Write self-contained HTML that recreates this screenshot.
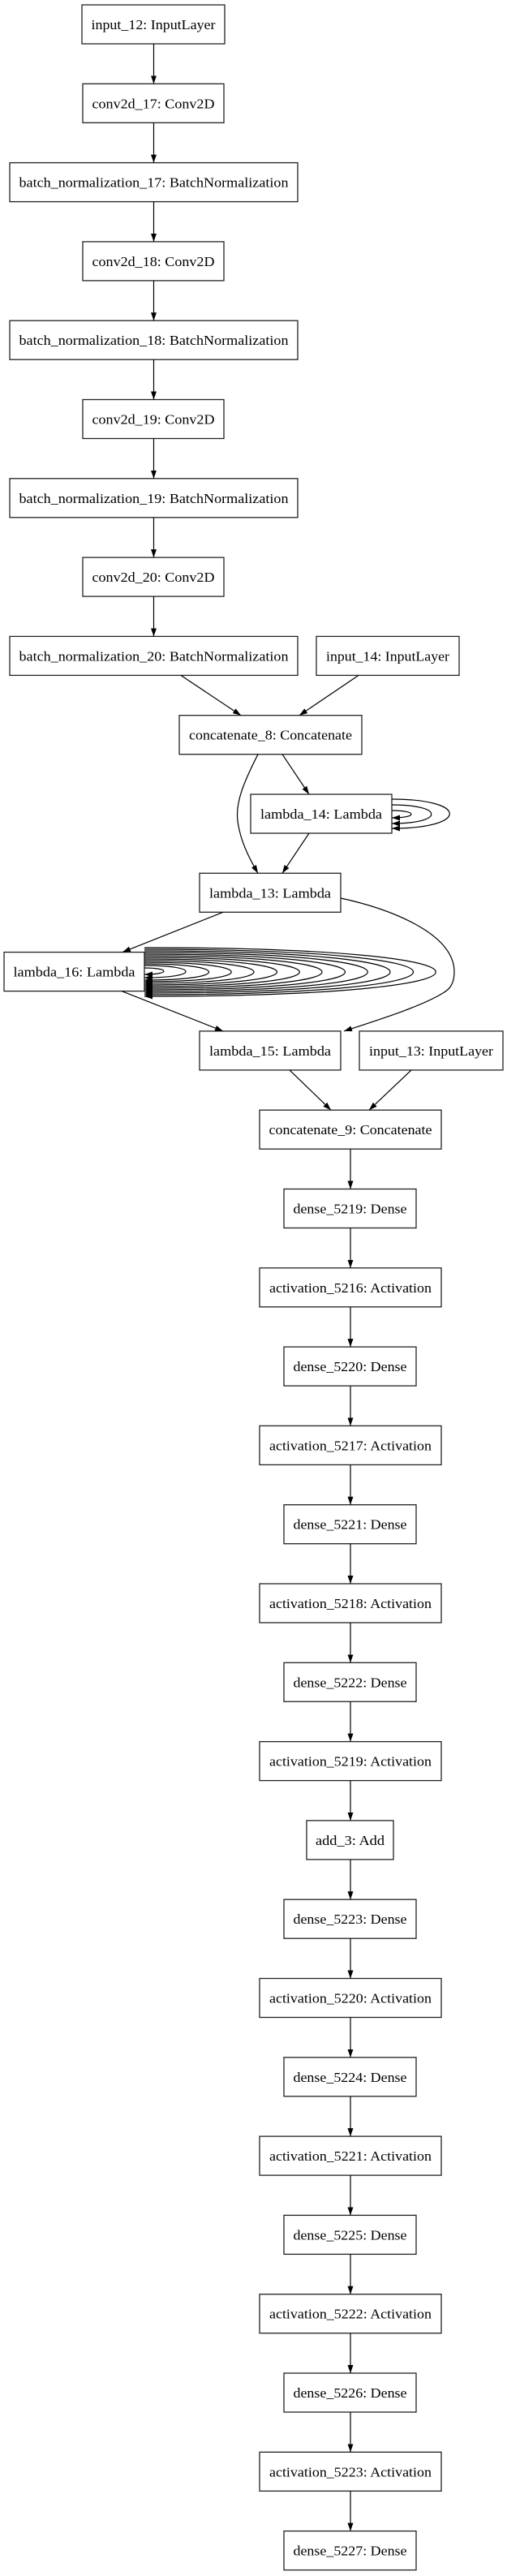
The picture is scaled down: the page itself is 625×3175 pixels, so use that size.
<!DOCTYPE html>
<html><head><meta charset="utf-8"><style>
html,body{margin:0;padding:0;background:#fff;}
svg{display:block;}
text{font-family:"Liberation Serif",serif;font-size:17px;fill:#000;}
</style></head><body>
<svg width="625" height="3175" viewBox="0 0 625 3175" xmlns="http://www.w3.org/2000/svg">
<defs>
<marker id="a" markerWidth="10" markerHeight="7" refX="10" refY="3.5" orient="auto" markerUnits="userSpaceOnUse">
<path d="M0,0 L10,3.5 L0,7 z" fill="#000"/>
</marker>
</defs>
<g fill="#fff" stroke="#222" stroke-width="1.3">
<rect x="101" y="6" width="176" height="48"/>
<rect x="102" y="103.3" width="174" height="48"/>
<rect x="12" y="200.6" width="355" height="48"/>
<rect x="102" y="297.9" width="174" height="48"/>
<rect x="12" y="395.2" width="355" height="48"/>
<rect x="102" y="492.5" width="174" height="48"/>
<rect x="12" y="589.8" width="355" height="48"/>
<rect x="102" y="687.1" width="174" height="48"/>
<rect x="12" y="784.4" width="355" height="48"/>
<rect x="390" y="784.4" width="176" height="48"/>
<rect x="221" y="881.7" width="225" height="48"/>
<rect x="309" y="979" width="174" height="48"/>
<rect x="246" y="1076.3" width="174" height="48"/>
<rect x="5" y="1173.6" width="173" height="48"/>
<rect x="246" y="1270.9" width="174" height="48"/>
<rect x="443" y="1270.9" width="177" height="48"/>
<rect x="320" y="1368.2" width="224" height="48"/>
<rect x="350" y="1465.5" width="163" height="48"/>
<rect x="320" y="1562.8" width="224" height="48"/>
<rect x="350" y="1660.1" width="163" height="48"/>
<rect x="320" y="1757.4" width="224" height="48"/>
<rect x="350" y="1854.7" width="163" height="48"/>
<rect x="320" y="1952" width="224" height="48"/>
<rect x="350" y="2049.3" width="163" height="48"/>
<rect x="320" y="2146.6" width="224" height="48"/>
<rect x="378" y="2243.9" width="107" height="48"/>
<rect x="350" y="2341.2" width="163" height="48"/>
<rect x="320" y="2438.5" width="224" height="48"/>
<rect x="350" y="2535.8" width="163" height="48"/>
<rect x="320" y="2633.1" width="224" height="48"/>
<rect x="350" y="2730.4" width="163" height="48"/>
<rect x="320" y="2827.7" width="224" height="48"/>
<rect x="350" y="2925" width="163" height="48"/>
<rect x="320" y="3022.3" width="224" height="48"/>
<rect x="350" y="3119.6" width="163" height="48"/>
</g>
<g text-anchor="middle" lengthAdjust="spacingAndGlyphs">
<text x="189" y="36" textLength="153" lengthAdjust="spacingAndGlyphs">input_12: InputLayer</text>
<text x="189" y="133.3" textLength="151" lengthAdjust="spacingAndGlyphs">conv2d_17: Conv2D</text>
<text x="189.5" y="230.6" textLength="332" lengthAdjust="spacingAndGlyphs">batch_normalization_17: BatchNormalization</text>
<text x="189" y="327.9" textLength="151" lengthAdjust="spacingAndGlyphs">conv2d_18: Conv2D</text>
<text x="189.5" y="425.2" textLength="332" lengthAdjust="spacingAndGlyphs">batch_normalization_18: BatchNormalization</text>
<text x="189" y="522.5" textLength="151" lengthAdjust="spacingAndGlyphs">conv2d_19: Conv2D</text>
<text x="189.5" y="619.8" textLength="332" lengthAdjust="spacingAndGlyphs">batch_normalization_19: BatchNormalization</text>
<text x="189" y="717.1" textLength="151" lengthAdjust="spacingAndGlyphs">conv2d_20: Conv2D</text>
<text x="189.5" y="814.4" textLength="332" lengthAdjust="spacingAndGlyphs">batch_normalization_20: BatchNormalization</text>
<text x="478" y="814.4" textLength="152" lengthAdjust="spacingAndGlyphs">input_14: InputLayer</text>
<text x="333.5" y="911.7" textLength="201" lengthAdjust="spacingAndGlyphs">concatenate_8: Concatenate</text>
<text x="396" y="1009" textLength="150" lengthAdjust="spacingAndGlyphs">lambda_14: Lambda</text>
<text x="333" y="1106.3" textLength="150" lengthAdjust="spacingAndGlyphs">lambda_13: Lambda</text>
<text x="91.5" y="1203.6" textLength="150" lengthAdjust="spacingAndGlyphs">lambda_16: Lambda</text>
<text x="333" y="1300.9" textLength="150" lengthAdjust="spacingAndGlyphs">lambda_15: Lambda</text>
<text x="531.5" y="1300.9" textLength="153" lengthAdjust="spacingAndGlyphs">input_13: InputLayer</text>
<text x="432" y="1398.2" textLength="201" lengthAdjust="spacingAndGlyphs">concatenate_9: Concatenate</text>
<text x="431.5" y="1495.5" textLength="140" lengthAdjust="spacingAndGlyphs">dense_5219: Dense</text>
<text x="432" y="1592.8" textLength="200" lengthAdjust="spacingAndGlyphs">activation_5216: Activation</text>
<text x="431.5" y="1690.1" textLength="140" lengthAdjust="spacingAndGlyphs">dense_5220: Dense</text>
<text x="432" y="1787.4" textLength="200" lengthAdjust="spacingAndGlyphs">activation_5217: Activation</text>
<text x="431.5" y="1884.7" textLength="140" lengthAdjust="spacingAndGlyphs">dense_5221: Dense</text>
<text x="432" y="1982" textLength="200" lengthAdjust="spacingAndGlyphs">activation_5218: Activation</text>
<text x="431.5" y="2079.3" textLength="140" lengthAdjust="spacingAndGlyphs">dense_5222: Dense</text>
<text x="432" y="2176.6" textLength="200" lengthAdjust="spacingAndGlyphs">activation_5219: Activation</text>
<text x="431.5" y="2273.9" textLength="85" lengthAdjust="spacingAndGlyphs">add_3: Add</text>
<text x="431.5" y="2371.2" textLength="140" lengthAdjust="spacingAndGlyphs">dense_5223: Dense</text>
<text x="432" y="2468.5" textLength="200" lengthAdjust="spacingAndGlyphs">activation_5220: Activation</text>
<text x="431.5" y="2565.8" textLength="140" lengthAdjust="spacingAndGlyphs">dense_5224: Dense</text>
<text x="432" y="2663.1" textLength="200" lengthAdjust="spacingAndGlyphs">activation_5221: Activation</text>
<text x="431.5" y="2760.4" textLength="140" lengthAdjust="spacingAndGlyphs">dense_5225: Dense</text>
<text x="432" y="2857.7" textLength="200" lengthAdjust="spacingAndGlyphs">activation_5222: Activation</text>
<text x="431.5" y="2955" textLength="140" lengthAdjust="spacingAndGlyphs">dense_5226: Dense</text>
<text x="432" y="3052.3" textLength="200" lengthAdjust="spacingAndGlyphs">activation_5223: Activation</text>
<text x="431.5" y="3149.6" textLength="140" lengthAdjust="spacingAndGlyphs">dense_5227: Dense</text>
</g>
<g fill="none" stroke="#000" stroke-width="1.2" marker-end="url(#a)">
<path d="M189.5,54 V103.3"/>
<path d="M189.5,151.3 V200.6"/>
<path d="M189.5,248.6 V297.9"/>
<path d="M189.5,345.9 V395.2"/>
<path d="M189.5,443.2 V492.5"/>
<path d="M189.5,540.5 V589.8"/>
<path d="M189.5,637.8 V687.1"/>
<path d="M189.5,735.1 V784.4"/>
<path d="M223,832.4 L297,881.7"/>
<path d="M442,832.4 L369,881.7"/>
<path d="M348,929.7 L381,979"/>
<path d="M318,929.7 C300,965 290,990 293,1012 C296,1035 306,1056 318,1076.3"/>
<path d="M381,1027 L348,1076.3"/>
<path d="M275,1124.3 L151,1173.6"/>
<path d="M420,1107 C480,1120 560,1150 560,1198 C560,1214 553,1220 546,1224 C520,1240 470,1256 424,1270.9"/>
<path d="M150,1221.6 L275,1270.9"/>
<path d="M357,1318.9 L408,1368.2"/>
<path d="M507,1318.9 L455,1368.2"/>
<path d="M483,985 C578,985 578,1021 483,1021"/>
<path d="M483,992 C548,992 548,1015 483,1015"/>
<path d="M483,999 C515,999 515,1008 483,1008"/>
<path d="M178,1168 C657,1168 657,1228 178,1228"/>
<path d="M178,1170 C620,1170 620,1226 178,1226"/>
<path d="M178,1172 C582,1172 582,1224 178,1224"/>
<path d="M178,1174 C545,1174 545,1222 178,1222"/>
<path d="M178,1176 C508,1176 508,1220 178,1220"/>
<path d="M178,1178 C470,1178 470,1218 178,1218"/>
<path d="M178,1180 C433,1180 433,1216 178,1216"/>
<path d="M178,1182 C396,1182 396,1214 178,1214"/>
<path d="M178,1184 C358,1184 358,1212 178,1212"/>
<path d="M178,1186 C321,1186 321,1210 178,1210"/>
<path d="M178,1188 C284,1188 284,1208 178,1208"/>
<path d="M178,1190 C246,1190 246,1205 178,1205"/>
<path d="M178,1193 C210,1193 210,1201 178,1201"/>
<path d="M432,1416.2 V1465.5"/>
<path d="M432,1513.5 V1562.8"/>
<path d="M432,1610.8 V1660.1"/>
<path d="M432,1708.1 V1757.4"/>
<path d="M432,1805.4 V1854.7"/>
<path d="M432,1902.7 V1952"/>
<path d="M432,2000 V2049.3"/>
<path d="M432,2097.3 V2146.6"/>
<path d="M432,2194.6 V2243.9"/>
<path d="M432,2291.9 V2341.2"/>
<path d="M432,2389.2 V2438.5"/>
<path d="M432,2486.5 V2535.8"/>
<path d="M432,2583.8 V2633.1"/>
<path d="M432,2681.1 V2730.4"/>
<path d="M432,2778.4 V2827.7"/>
<path d="M432,2875.7 V2925"/>
<path d="M432,2973 V3022.3"/>
<path d="M432,3070.3 V3119.6"/>
</g>
</svg>
</body></html>
